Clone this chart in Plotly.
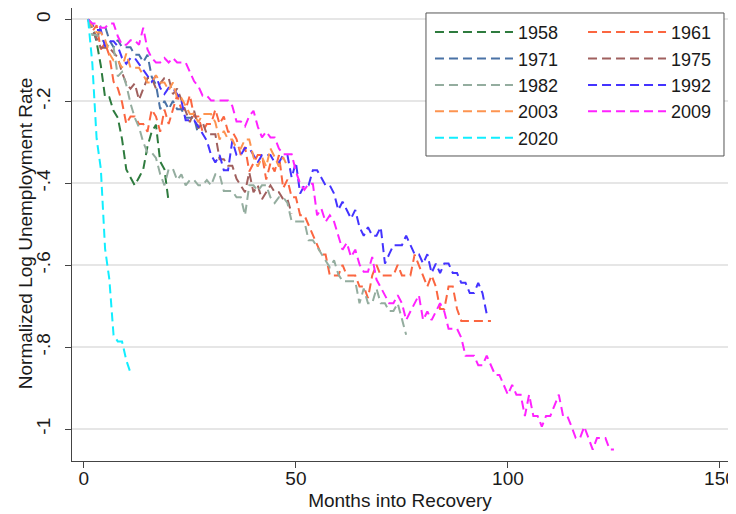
import plotly.graph_objects as go

# ---- data: normalized log unemployment rate by month into recovery ----
labels = ["1958", "1961", "1971", "1975", "1982", "1992", "2003", "2009", "2020"]

v1958 = [0, -0.013, -0.055, -0.113, -0.190, -0.190, -0.223, -0.240, -0.292, -0.366,
         -0.386, -0.405, -0.386, -0.366, -0.310, -0.274, -0.257, -0.347, -0.366, -0.446]

v1961 = [0, -0.029, -0.014, -0.073, -0.058, -0.088, -0.152, -0.168, -0.202, -0.255,
         -0.237, -0.237, -0.255, -0.255, -0.274, -0.220, -0.237, -0.274, -0.220, -0.255,
         -0.220, -0.185, -0.220, -0.220, -0.185, -0.237, -0.237, -0.274, -0.255, -0.255,
         -0.220, -0.255, -0.237, -0.274, -0.274, -0.292, -0.331, -0.311, -0.371, -0.351,
         -0.331, -0.331, -0.391, -0.351, -0.371, -0.331, -0.412, -0.391, -0.434, -0.434,
         -0.478, -0.478, -0.501, -0.525, -0.549, -0.574, -0.574, -0.625, -0.625, -0.625,
         -0.599, -0.625, -0.625, -0.625, -0.652, -0.652, -0.680, -0.625, -0.599, -0.625,
         -0.625, -0.625, -0.625, -0.599, -0.625, -0.625, -0.625, -0.574, -0.599, -0.625,
         -0.652, -0.625, -0.652, -0.707, -0.707, -0.652, -0.652, -0.707, -0.736, -0.736,
         -0.736, -0.736, -0.736, -0.736, -0.736, -0.736]

v1971 = [0, -0.017, -0.050, -0.017, -0.017, -0.050, -0.068, -0.050, -0.068, -0.068,
         -0.068, -0.086, -0.086, -0.104, -0.086, -0.140, -0.159, -0.219, -0.199, -0.219,
         -0.199, -0.219, -0.219, -0.240, -0.240, -0.240, -0.282]

v1975 = [0, -0.022, -0.046, -0.069, -0.069, -0.069, -0.081, -0.093, -0.130, -0.156,
         -0.169, -0.156, -0.196, -0.169, -0.143, -0.143, -0.169, -0.156, -0.143, -0.143,
         -0.182, -0.169, -0.196, -0.223, -0.251, -0.223, -0.266, -0.251, -0.280, -0.280,
         -0.280, -0.341, -0.341, -0.357, -0.357, -0.389, -0.405, -0.422, -0.373, -0.422,
         -0.405, -0.439, -0.422, -0.405, -0.422, -0.422, -0.439, -0.439, -0.474]

v1982 = [0, -0.038, -0.038, -0.047, -0.057, -0.067, -0.067, -0.139, -0.128, -0.160,
         -0.205, -0.240, -0.263, -0.300, -0.325, -0.325, -0.338, -0.378, -0.405, -0.365,
         -0.365, -0.392, -0.378, -0.405, -0.392, -0.392, -0.405, -0.405, -0.392, -0.405,
         -0.378, -0.378, -0.419, -0.419, -0.419, -0.434, -0.434, -0.478, -0.405, -0.405,
         -0.419, -0.405, -0.405, -0.434, -0.448, -0.434, -0.434, -0.448, -0.493, -0.493,
         -0.493, -0.493, -0.539, -0.539, -0.555, -0.571, -0.588, -0.605, -0.588, -0.622,
         -0.639, -0.639, -0.639, -0.639, -0.693, -0.657, -0.693, -0.693, -0.657, -0.693,
         -0.693, -0.712, -0.712, -0.693, -0.731, -0.770]

v1992 = [0, -0.013, -0.026, -0.026, -0.066, -0.053, -0.053, -0.066, -0.094, -0.108,
         -0.094, -0.094, -0.108, -0.123, -0.137, -0.152, -0.137, -0.167, -0.182, -0.167,
         -0.167, -0.182, -0.198, -0.246, -0.246, -0.246, -0.262, -0.279, -0.296, -0.331,
         -0.349, -0.331, -0.368, -0.368, -0.296, -0.331, -0.331, -0.314, -0.314, -0.331,
         -0.349, -0.331, -0.331, -0.331, -0.349, -0.349, -0.331, -0.331, -0.386, -0.349,
         -0.425, -0.405, -0.405, -0.368, -0.368, -0.386, -0.405, -0.405, -0.425, -0.465,
         -0.445, -0.465, -0.486, -0.465, -0.507, -0.528, -0.507, -0.528, -0.528, -0.507,
         -0.596, -0.573, -0.551, -0.551, -0.551, -0.528, -0.551, -0.573, -0.573, -0.596,
         -0.573, -0.619, -0.596, -0.619, -0.596, -0.596, -0.619, -0.619, -0.643, -0.643,
         -0.668, -0.668, -0.643, -0.668, -0.719]

v2003 = [0, -0.016, -0.032, -0.032, -0.049, -0.083, -0.100, -0.100, -0.118, -0.083,
         -0.118, -0.118, -0.118, -0.136, -0.154, -0.154, -0.136, -0.154, -0.154, -0.173,
         -0.154, -0.192, -0.192, -0.211, -0.231, -0.231, -0.251, -0.231, -0.231, -0.231,
         -0.251, -0.293, -0.272, -0.293, -0.293, -0.315, -0.315, -0.293, -0.293, -0.336,
         -0.359, -0.336, -0.359, -0.315, -0.336, -0.359, -0.336, -0.359]

v2009 = [0, -0.010, -0.010, -0.020, -0.020, -0.010, -0.010, -0.041, -0.062, -0.062,
         -0.051, -0.051, -0.062, -0.020, -0.073, -0.094, -0.105, -0.105, -0.094, -0.105,
         -0.094, -0.105, -0.105, -0.105, -0.128, -0.151, -0.163, -0.186, -0.186, -0.198,
         -0.198, -0.198, -0.198, -0.198, -0.211, -0.249, -0.249, -0.261, -0.236, -0.223,
         -0.261, -0.288, -0.274, -0.288, -0.288, -0.315, -0.329, -0.329, -0.329, -0.371,
         -0.401, -0.416, -0.401, -0.401, -0.478, -0.462, -0.494, -0.478, -0.494, -0.528,
         -0.562, -0.545, -0.580, -0.562, -0.598, -0.616, -0.616, -0.580, -0.635, -0.654,
         -0.673, -0.693, -0.693, -0.673, -0.693, -0.734, -0.713, -0.693, -0.673, -0.734,
         -0.713, -0.734, -0.713, -0.693, -0.713, -0.755, -0.755, -0.755, -0.777, -0.821,
         -0.821, -0.821, -0.844, -0.844, -0.821, -0.844, -0.868, -0.868, -0.892, -0.916,
         -0.892, -0.916, -0.916, -0.968, -0.916, -0.968, -0.968, -0.994, -0.968, -0.968,
         -0.942, -0.916, -0.968, -0.968, -0.994, -1.022, -1.022, -0.994, -1.022, -1.050,
         -1.022, -1.022, -1.022, -1.050, -1.050]

v2020 = [0, -0.108, -0.290, -0.365, -0.560, -0.634, -0.771, -0.786, -0.786, -0.832, -0.863]

series_values = [v1958, v1961, v1971, v1975, v1982, v1992, v2003, v2009, v2020]

x_ticks = [0, 50, 100, 150]
y_ticks = [0, -0.2, -0.4, -0.6, -0.8, -1]
y_ticktext = ["0", "-.2", "-.4", "-.6", "-.8", "-1"]
x_title = "Months into Recovery"
y_title = "Normalized Log Unemployment Rate"

# ---- styling ----
colors = ["#2e7b3e", "#fb6640", "#4a72a6", "#a0605e", "#94ad9f",
          "#4433ff", "#fd9450", "#ff22ff", "#11eeff"]
legend_of = ["legend", "legend2", "legend", "legend2", "legend",
             "legend2", "legend", "legend2", "legend"]
FONT = "Liberation Sans, Arial, Helvetica, sans-serif"
TXT = "#1a1a1a"

fig = go.Figure()
for lab, vals, col, lg in zip(labels, series_values, colors, legend_of):
    months = list(range(1, len(vals) + 1))
    fig.add_trace(go.Scatter(
        x=months, y=vals, mode="lines", name=lab, legend=lg,
        line=dict(color=col, width=2, dash="9px,5px"),
    ))

legend_common = dict(
    xanchor="left", yanchor="top", bgcolor="rgba(0,0,0,0)", borderwidth=0,
    font=dict(family=FONT, size=18, color=TXT), itemwidth=78, tracegroupgap=0,
    orientation="v",
)

fig.update_layout(
    width=736, height=514,
    margin=dict(l=64, r=16, t=0, b=61, autoexpand=False),
    paper_bgcolor="white", plot_bgcolor="white",
    font=dict(family=FONT, size=19, color=TXT),
    showlegend=True,
    legend=dict(x=0.5457, y=0.987, **legend_common),
    legend2=dict(x=0.779, y=0.987, **legend_common),
    xaxis=dict(
        range=[-2.8, 151.9], tickvals=x_ticks, ticks="outside", ticklen=6,
        tickcolor="#444", tickwidth=1, showline=True, linecolor="#444", linewidth=1,
        mirror=True, showgrid=False, zeroline=False, ticklabelstandoff=-6,
        title=dict(text=x_title, font=dict(size=19), standoff=5),
        tickfont=dict(size=19), automargin=False,
    ),
    yaxis=dict(
        range=[-1.078, 0.028], tickvals=y_ticks, ticktext=y_ticktext, tickangle=-90,
        ticks="outside", ticklen=6, tickcolor="#444", tickwidth=1,
        showline=True, linecolor="#444", linewidth=1, mirror=True,
        showgrid=True, gridcolor="#e6e6e6", gridwidth=1.5, zeroline=False,
        ticklabelstandoff=7,
        tickfont=dict(size=19), automargin=False,
    ),
    annotations=[dict(
        text=y_title, xref="paper", yref="paper", x=-0.0716, y=0.503,
        xanchor="center", yanchor="middle", textangle=-90, showarrow=False,
        font=dict(family=FONT, size=19, color=TXT),
    )],
    shapes=[dict(
        type="rect", xref="paper", yref="paper",
        x0=0.5396, x1=0.9939, y0=0.6733, y1=0.989,
        line=dict(color="#555", width=1), fillcolor="white", layer="above",
    )],
)

fig.write_html("out.html")
